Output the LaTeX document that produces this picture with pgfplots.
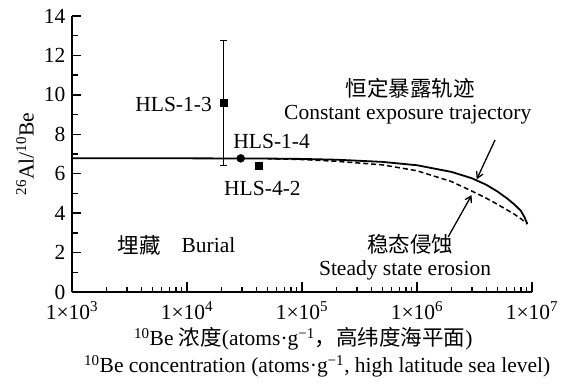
\documentclass[border=0pt]{standalone}
\usepackage{fontspec}
\setmainfont{Liberation Serif}
\newfontfamily\cjk{Noto Sans CJK SC}
\usepackage{pgfplots}
\pgfplotsset{compat=1.18}
\usetikzlibrary{arrows.meta}
\begin{document}
\begin{tikzpicture}[font=\fontsize{21.5bp}{25bp}\selectfont]
\useasboundingbox (-72bp,-92bp) rectangle (493bp,292bp);
\begin{axis}[name=ax, at={(0,0)}, anchor=south west,
  xmode=log, scale only axis, width=460bp, height=276bp,
  xmin=1e3, xmax=1e7, ymin=0, ymax=14,
  axis lines=left,
  axis line style={line width=1.8bp, -},
  xtick={1e3,1e4,1e5,1e6,1e7},
  xticklabels={1×10\textsuperscript{3},1×10\textsuperscript{4},1×10\textsuperscript{5},1×10\textsuperscript{6},1×10\textsuperscript{7}},
  ytick={0,2,...,14},
  tick style={draw=none},
  xticklabel style={yshift=-4bp},
  yticklabel={\pgfmathprintnumber[assume math mode=true]{\tick}},
  yticklabel style={xshift=-1bp},
  unbounded coords=jump,
  clip=false,
]
% tick marks drawn as short plotted segments
\addplot[black, line width=1.4bp, ycomb, forget plot] coordinates {(1e3,0.5) (1e4,0.5) (1e5,0.5) (1e6,0.5) (1e7,0.5)};
\addplot[black, line width=1.3bp, ycomb, forget plot] coordinates {(2e3,0.25) (3e3,0.25) (4e3,0.25) (5e3,0.25) (6e3,0.25) (7e3,0.25) (8e3,0.25) (9e3,0.25) (2e4,0.25) (3e4,0.25) (4e4,0.25) (5e4,0.25) (6e4,0.25) (7e4,0.25) (8e4,0.25) (9e4,0.25) (2e5,0.25) (3e5,0.25) (4e5,0.25) (5e5,0.25) (6e5,0.25) (7e5,0.25) (8e5,0.25) (9e5,0.25) (2e6,0.25) (3e6,0.25) (4e6,0.25) (5e6,0.25) (6e6,0.25) (7e6,0.25) (8e6,0.25) (9e6,0.25)};
\addplot[black, line width=1.4bp, forget plot] coordinates {(1e3,2) (1200,2) (1e3,nan) (1e3,4) (1200,4) (1e3,nan) (1e3,6) (1200,6) (1e3,nan) (1e3,8) (1200,8) (1e3,nan) (1e3,10) (1200,10) (1e3,nan) (1e3,12) (1200,12) (1e3,nan) (1e3,14) (1200,14)};
\addplot[black, line width=1.3bp, forget plot] coordinates {(1e3,1) (1130,1) (1e3,nan) (1e3,3) (1130,3) (1e3,nan) (1e3,5) (1130,5) (1e3,nan) (1e3,7) (1130,7) (1e3,nan) (1e3,9) (1130,9) (1e3,nan) (1e3,11) (1130,11) (1e3,nan) (1e3,13) (1130,13)};
\addplot[black, line width=1.8bp] coordinates {(1e3,6.78) (1e4,6.78) (5e4,6.77) (1e5,6.75) (2e5,6.71) (5e5,6.6) (1e6,6.43) (2e6,6.09) (3e6,5.77) (4e6,5.44) (5e6,5.1) (6e6,4.77) (7e6,4.45) (8e6,4.12) (8.6e6,3.8) (9.1e6,3.45)};
\addplot[black, line width=1.5bp, dash pattern=on 5bp off 3bp] coordinates {(5e4,6.76) (1e5,6.72) (2e5,6.63) (5e5,6.45) (1e6,6.15) (2e6,5.6) (3e6,5.12) (4e6,4.76) (5e6,4.45) (6e6,4.18) (7e6,3.95) (8e6,3.72) (9.1e6,3.45)};
\addplot[black, only marks, mark=square*, mark size=3.5bp,
  error bars/.cd, y dir=both, y explicit,
  error bar style={line width=1.3bp, black}]
  coordinates {(2.07e4,9.6) +- (0,3.19)};
\addplot[black, only marks, mark=*, mark size=4bp] coordinates {(2.93e4,6.78)};
\addplot[black, only marks, mark=square*, mark size=3.5bp] coordinates {(4.23e4,6.41)};
\node at (rel axis cs:0.735,0.739) {\cjk 恒定暴露轨迹};
\node at (rel axis cs:0.730,0.641) {Constant exposure trajectory};
\node[anchor=east, inner sep=1bp] at (rel axis cs:0.3065,0.681) {HLS-1-3};
\node at (rel axis cs:0.434,0.5446) {HLS-1-4};
\node at (rel axis cs:0.414,0.376) {HLS-4-2};
\node at (rel axis cs:0.1457,0.170) {\cjk 埋藏};
\node at (rel axis cs:0.2967,0.170) {Burial};
\node at (rel axis cs:0.735,0.174) {\cjk 稳态侵蚀};
\node at (rel axis cs:0.724,0.0797) {Steady state erosion};
\draw[-{Straight Barb[length=6bp,width=7bp]}, line width=1.3bp] (rel axis cs:0.9196,0.5507) -- (rel axis cs:0.8798,0.4083);
\draw[-{Straight Barb[length=6bp,width=7bp]}, line width=1.3bp] (rel axis cs:0.8180,0.2003) -- (rel axis cs:0.8689,0.3514);
\node[rotate=90] at (rel axis cs:-0.102,0.5) {\textsuperscript{26}Al/\textsuperscript{10}Be};
\node at (rel axis cs:0.503,-0.17) {\textsuperscript{10}Be {\cjk 浓度}(atoms·g\textsuperscript{−1}{\cjk ，高纬度海平面})};
\node at (rel axis cs:0.533,-0.27) {\textsuperscript{10}Be concentration (atoms·g\textsuperscript{−1}, high latitude sea level)};
\end{axis}
\end{tikzpicture}
\end{document}
